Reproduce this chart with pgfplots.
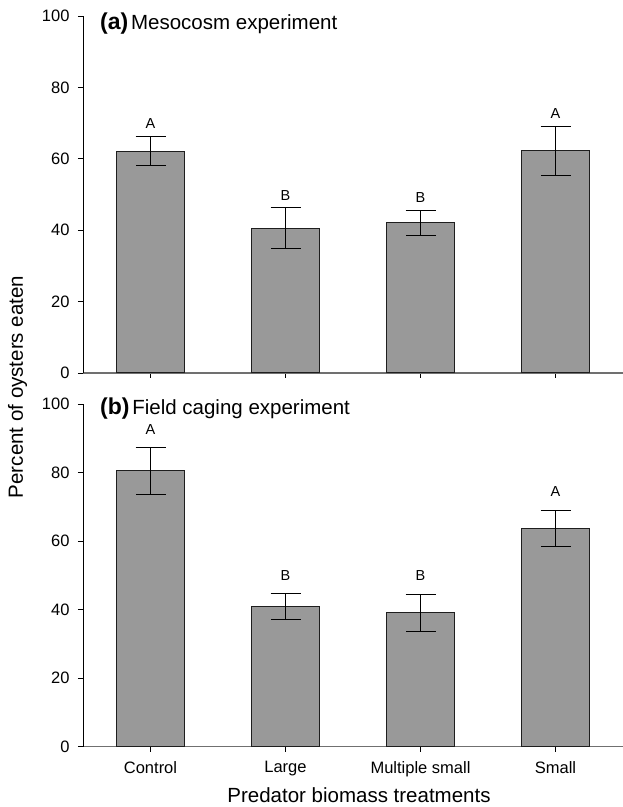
\documentclass[border=0pt]{standalone}
\usepackage{fontspec}
\setmainfont{Liberation Sans}
\usepackage{pgfplots}
\usepackage{pgfplotstable}
\pgfplotsset{compat=1.18}
\definecolor{barg}{HTML}{999999}
\definecolor{edge}{HTML}{1E1E1E}
\definecolor{xline}{HTML}{707070}

\pgfplotstableread{
x y e l
0 62.1 4.1 A
1 40.6 5.7 B
2 42.1 3.5 B
3 62.2 6.8 A
}\meso
\pgfplotstableread{
x y e l
0 80.5 6.85 A
1 40.9 3.85 B
2 39.1 5.45 B
3 63.8 5.25 A
}\field

\pgfplotsset{
  mypanel/.style={
    scale only axis, width=540bp, anchor=south west,
    xmin=-0.5, xmax=3.5, ymin=0, ymax=100,
    axis x line*=bottom, axis y line*=left,
    x axis line style={draw=xline, line width=1.5bp, -},
    y axis line style={draw=black, line width=0.9bp, -},
    xtick={0,1,2,3}, ytick={0,20,40,60,80,100},
    tick align=outside, major tick length=5bp,
    tick style={black, line width=0.8bp},
    /pgf/number format/assume math mode=true,
    ticklabel style={font=\fontsize{16.5bp}{16.5bp}\selectfont},
    yticklabel style={xshift=-5bp},
    xticklabel style={yshift=-6bp},
    clip=false,
  },
  mybars/.style={
    ybar, bar width=0.5, fill=barg, draw=edge, line width=1bp,
    error bars/.cd, y dir=both, y explicit,
    error bar style={black, line width=1bp},
    error mark options={black, line width=1bp, mark size=15bp, rotate=90},
  },
  myletters/.style={
    draw=none, mark=none, nodes near coords, point meta=explicit symbolic,
    nodes near coords style={anchor=south, inner sep=0pt, yshift=#1,
      font=\fontsize{14.5bp}{14.5bp}\selectfont, text=black},
  },
}

\begin{document}
\begin{tikzpicture}
\useasboundingbox (0,0) rectangle (623bp,807bp);

% (a) Mesocosm
\begin{axis}[mypanel, at={(83bp,434bp)}, height=357bp, xticklabels={}]
\addplot[mybars] table[x=x, y=y, y error=e] {\meso};
\addplot[myletters=7.5bp] table[x=x, y expr=\thisrow{y}+\thisrow{e}, meta=l] {\meso};
\end{axis}

% (b) Field caging
\begin{axis}[mypanel, at={(83bp,60.3bp)}, height=342.7bp,
  xticklabels={Control, Large, Multiple small, Small}]
\addplot[mybars] table[x=x, y=y, y error=e] {\field};
\addplot[myletters=13bp] table[x=x, y expr=\thisrow{y}+\thisrow{e}, meta=l] {\field};
\end{axis}

\node[anchor=base west, inner sep=0pt] at (100bp,777bp)
  {{\fontsize{23bp}{23bp}\selectfont\bfseries (a)} {\fontsize{20.5bp}{20.5bp}\selectfont Mesocosm experiment}};
\node[anchor=base west, inner sep=0pt] at (100bp,392bp)
  {{\fontsize{23bp}{23bp}\selectfont\bfseries (b)} {\fontsize{20.5bp}{20.5bp}\selectfont Field caging experiment}};

\node[rotate=90, inner sep=0pt, font=\fontsize{20.5bp}{20.5bp}\selectfont] at (17.5bp,420bp) {Percent of oysters eaten};
\node[inner sep=0pt, font=\fontsize{20.5bp}{20.5bp}\selectfont] at (359bp,12bp) {Predator biomass treatments};
\end{tikzpicture}
\end{document}
